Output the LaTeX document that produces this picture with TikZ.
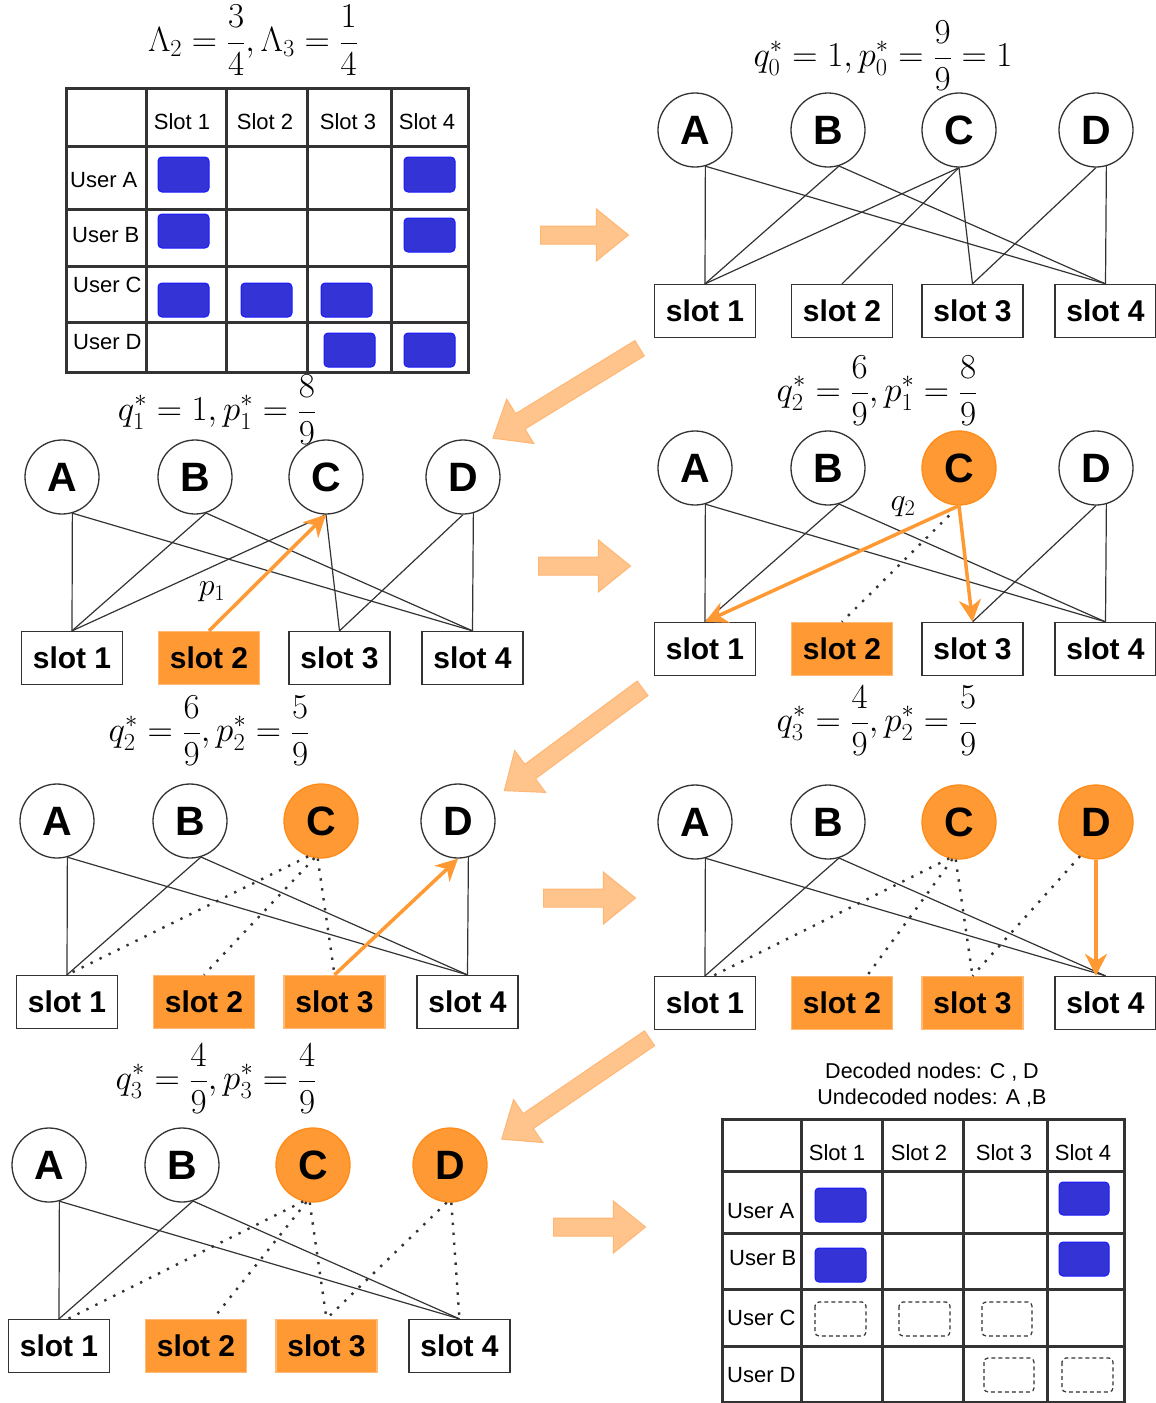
\RequirePackage{fix-cm}
\documentclass[tikz,border=0pt]{standalone}
\usepackage[no-math]{fontspec}
\newfontfamily\arial{Liberation Sans}
\usetikzlibrary{arrows.meta,shapes.arrows}
\definecolor{orange1}{RGB}{255,153,51}
\definecolor{orange2}{RGB}{255,140,26}
\definecolor{pale}{RGB}{255,196,140}
\definecolor{paleb}{RGB}{255,182,115}
\definecolor{bleu}{RGB}{51,51,214}
\definecolor{bleub}{RGB}{26,26,255}
\definecolor{gris}{RGB}{51,51,51}
\begin{document}
\begin{tikzpicture}[x=1pt,y=-1pt]
\tikzset{noeud/.style={circle, draw=gris, line width=1.3pt, fill=white, minimum size=74pt, inner sep=0pt, font=\arial\bfseries\fontsize{41}{41}\selectfont},
	decode/.style={noeud, fill=orange1, draw=orange2},
	creneau/.style={rectangle, draw=gris, line width=1.3pt, fill=white, minimum width=101pt, minimum height=53pt, inner sep=0pt, font=\arial\bfseries\fontsize{30}{30}\selectfont},
	creneauok/.style={creneau, fill=orange1, draw=orange2!60},
	lien/.style={draw=gris, line width=1.2pt},
	pointille/.style={draw=gris, line width=2.4pt, dash pattern=on 2.4pt off 7.6pt},
	fleche/.style={draw=orange1, line width=3.5pt, -{Stealth[length=22pt,width=22pt,inset=7pt]}},
	bloc/.style={single arrow, draw=paleb, fill=pale, line width=1pt, single arrow head extend=17pt, inner xsep=0pt, inner ysep=8.5pt, single arrow tip angle=78, anchor=tail},
	titre/.style={anchor=base, font=\fontsize{35}{40}\selectfont},
	etiq/.style={font=\fontsize{32}{36}\selectfont, inner sep=0pt},
	texte/.style={font=\arial\fontsize{22}{24}\selectfont, inner sep=0pt},
	grille/.style={draw=gris, line width=3pt},
	plein/.style={fill=bleu, draw=bleub, line width=1pt, rounded corners=4pt},
	vide/.style={draw=gris, line width=1.2pt, dash pattern=on 4pt off 3pt, rounded corners=4pt}}
\useasboundingbox (0,0) rectangle (1156,1403);

% tableau de depart
\node[titre] (t) at (253,51.5) {$\displaystyle \Lambda_2=\frac{3}{4},\Lambda_3=\frac{1}{4}$};
\draw[grille] (66,88) rectangle (468,372);
\draw[grille] (146,88) -- (146,372) (226,88) -- (226,372) (307,88) -- (307,372) (391,88) -- (391,372);
\draw[grille] (66,146) -- (468,146) (66,209) -- (468,209) (66,266) -- (468,266) (66,322) -- (468,322);
\node[texte] (h1) at (182,122) {Slot 1};
\node[texte] (h2) at (265,122) {Slot 2};
\node[texte] (h3) at (348,122) {Slot 3};
\node[texte] (h4) at (427,122) {Slot 4};
\node[texte, anchor=west] (ua) at (70,180) {User A};
\node[texte, anchor=west] (ub) at (72,235) {User B};
\node[texte, anchor=west] (uc) at (73,285) {User C};
\node[texte, anchor=west] (ud) at (73,342) {User D};
\draw[plein] (158,157) rectangle (209,192);
\draw[plein] (404,157) rectangle (455,192);
\draw[plein] (158,214) rectangle (209,248);
\draw[plein] (404,218) rectangle (455,252);
\draw[plein] (158,283) rectangle (209,317);
\draw[plein] (241,283) rectangle (292,317);
\draw[plein] (321,283) rectangle (372,317);
\draw[plein] (324,333) rectangle (375,367);
\draw[plein] (404,333) rectangle (455,367);

% grosses fleches
\node[bloc, minimum height=88pt] (f1) at (540,235) {};
\node[bloc, minimum height=172pt, rotate=211.5] (f2) at (640,348) {};
\node[bloc, minimum height=92pt] (f3) at (538,566) {};
\node[bloc, minimum height=172pt, rotate=216.5] (f4) at (643,688) {};
\node[bloc, minimum height=92pt] (f5) at (543,898) {};
\node[bloc, minimum height=179pt, rotate=214.3] (f6) at (650,1038) {};
\node[bloc, minimum height=92pt] (f7) at (553,1227) {};

% etape 0
\node[titre] (t0) at (883,66.75) {$\displaystyle q_0^*=1,p_0^*=\frac{9}{9}=1$};
\begin{scope}[shift={(695,130)}]
\node[noeud] (a0) at (0,0) {A};
\node[noeud] (b0) at (133,0) {B};
\node[noeud] (c0) at (264,0) {C};
\node[noeud] (d0) at (401,0) {D};
\node[creneau] (s01) at (10,181) {slot 1};
\node[creneau] (s02) at (147,181) {slot 2};
\node[creneau] (s03) at (277.5,181) {slot 3};
\node[creneau] (s04) at (410.5,181) {slot 4};
\end{scope}
\draw[lien] (a0.-74) -- (s01.north);
\draw[lien] (a0.-74) -- (s04.north);
\draw[lien] (b0.-73) -- (s01.north);
\draw[lien] (b0.-73) -- (s04.north);
\draw[lien] (c0.south) -- (s01.north);
\draw[lien] (c0.south) -- (s02.north);
\draw[lien] (c0.south) -- (s03.north);
\draw[lien] (d0.south) -- (s03.north);
\draw[lien] (d0.-74) -- (s04.north);

% etape 1
\node[titre] (t1) at (217,420.75) {$\displaystyle q_1^*=1,p_1^*=\frac{8}{9}$};
\begin{scope}[shift={(62,477)}]
\node[noeud] (a1) at (0,0) {A};
\node[noeud] (b1) at (133,0) {B};
\node[noeud] (c1) at (264,0) {C};
\node[noeud] (d1) at (401,0) {D};
\node[creneau] (s11) at (10,181) {slot 1};
\node[creneauok] (s12) at (147,181) {slot 2};
\node[creneau] (s13) at (277.5,181) {slot 3};
\node[creneau] (s14) at (410.5,181) {slot 4};
\end{scope}
\draw[lien] (a1.-74) -- (s11.north);
\draw[lien] (a1.-74) -- (s14.north);
\draw[lien] (b1.-73) -- (s11.north);
\draw[lien] (b1.-73) -- (s14.north);
\draw[lien] (c1.south) -- (s11.north);
\draw[lien] (c1.south) -- (s13.north);
\draw[lien] (d1.south) -- (s13.north);
\draw[lien] (d1.-74) -- (s14.north);
\draw[fleche] (s12.north) -- (c1.south);
\node[etiq] (p1) at (212,592) {$p_1$};

% etape 2
\node[titre] (t2) at (877,401.75) {$\displaystyle q_2^*=\frac{6}{9},p_1^*=\frac{8}{9}$};
\begin{scope}[shift={(695,468)}]
\node[noeud] (a2) at (0,0) {A};
\node[noeud] (b2) at (133,0) {B};
\node[decode] (c2) at (264,0) {C};
\node[noeud] (d2) at (401,0) {D};
\node[creneau] (s21) at (10,181) {slot 1};
\node[creneauok] (s22) at (147,181) {slot 2};
\node[creneau] (s23) at (277.5,181) {slot 3};
\node[creneau] (s24) at (410.5,181) {slot 4};
\end{scope}
\draw[lien] (a2.-74) -- (s21.north);
\draw[lien] (a2.-74) -- (s24.north);
\draw[lien] (b2.-73) -- (s21.north);
\draw[lien] (b2.-73) -- (s24.north);
\draw[lien] (d2.south) -- (s23.north);
\draw[lien] (d2.-74) -- (s24.north);
\draw[pointille, shorten <=14pt] (c2.south) -- (s22.north);
\draw[fleche] (c2.south) -- (s21.north);
\draw[fleche] (c2.south) -- (s23.north);
\node[etiq] (q2) at (903,507) {$q_2$};

% etape 3
\node[titre] (t3) at (209,741.75) {$\displaystyle q_2^*=\frac{6}{9},p_2^*=\frac{5}{9}$};
\begin{scope}[shift={(57,821)}]
\node[noeud] (a3) at (0,0) {A};
\node[noeud] (b3) at (133,0) {B};
\node[decode] (c3) at (264,0) {C};
\node[noeud] (d3) at (401,0) {D};
\node[creneau] (s31) at (10,181) {slot 1};
\node[creneauok] (s32) at (147,181) {slot 2};
\node[creneauok] (s33) at (277.5,181) {slot 3};
\node[creneau] (s34) at (410.5,181) {slot 4};
\end{scope}
\draw[lien] (a3.-74) -- (s31.north);
\draw[lien] (a3.-74) -- (s34.north);
\draw[lien] (b3.-73) -- (s31.north);
\draw[lien] (b3.-73) -- (s34.north);
\draw[lien] (d3.-74) -- (s34.north);
\draw[pointille] (c3.-110) -- (s31.north);
\draw[pointille] (c3.-100) -- (s32.north);
\draw[pointille] (c3.-95) -- (s33.north);
\draw[fleche] (s33.north) -- (d3.south);

% etape 4
\node[titre] (t4) at (877,731.75) {$\displaystyle q_3^*=\frac{4}{9},p_2^*=\frac{5}{9}$};
\begin{scope}[shift={(695,822)}]
\node[noeud] (a4) at (0,0) {A};
\node[noeud] (b4) at (133,0) {B};
\node[decode] (c4) at (264,0) {C};
\node[decode] (d4) at (401,0) {D};
\node[creneau] (s41) at (10,181) {slot 1};
\node[creneauok] (s42) at (147,181) {slot 2};
\node[creneauok] (s43) at (277.5,181) {slot 3};
\node[creneau] (s44) at (410.5,181) {slot 4};
\end{scope}
\draw[lien] (a4.-74) -- (s41.north);
\draw[lien] (a4.-74) -- (s44.north);
\draw[lien] (b4.-73) -- (s41.north);
\draw[lien] (b4.-73) -- (s44.north);
\draw[pointille] (c4.-105) -- ([xshift=8pt]s41.north);
\draw[pointille] (c4.-100) -- ([xshift=25pt]s42.north);
\draw[pointille] (c4.-95) -- (s43.north);
\draw[pointille] (d4.-115) -- (s43.north);
\draw[fleche] (d4.south) -- (d4.south |- s44.north);

% etape 5
\node[titre] (t5) at (216,1089.75) {$\displaystyle q_3^*=\frac{4}{9},p_3^*=\frac{4}{9}$};
\begin{scope}[shift={(49,1165)}]
\node[noeud] (a5) at (0,0) {A};
\node[noeud] (b5) at (133,0) {B};
\node[decode] (c5) at (264,0) {C};
\node[decode] (d5) at (401,0) {D};
\node[creneau] (s51) at (10,181) {slot 1};
\node[creneauok] (s52) at (147,181) {slot 2};
\node[creneauok] (s53) at (277.5,181) {slot 3};
\node[creneau] (s54) at (410.5,181) {slot 4};
\end{scope}
\draw[lien] (a5.-74) -- (s51.north);
\draw[lien] (a5.-74) -- (s54.north);
\draw[lien] (b5.-73) -- (s51.north);
\draw[lien] (b5.-73) -- (s54.north);
\draw[pointille] (c5.-105) -- ([xshift=9pt]s51.north);
\draw[pointille] (c5.-100) -- ([xshift=17pt]s52.north);
\draw[pointille] (c5.-95) -- (s53.north);
\draw[pointille] (d5.-95) -- (s53.north);
\draw[pointille] (d5.-88) -- (s54.north);

% tableau final
\node[texte, font=\arial\fontsize{21.5}{24}\selectfont] (l1) at (932,1072) {Decoded nodes: C , D};
\node[texte, font=\arial\fontsize{21.5}{24}\selectfont] (l2) at (932,1098) {Undecoded nodes: A ,B};
\draw[grille] (722,1119) rectangle (1124,1402);
\draw[grille] (801,1119) -- (801,1402) (882,1119) -- (882,1402) (963,1119) -- (963,1402) (1047,1119) -- (1047,1402);
\draw[grille] (722,1171) -- (1124,1171) (722,1233) -- (1124,1233) (722,1289) -- (1124,1289) (722,1346) -- (1124,1346);
\node[texte] (k1) at (837,1153) {Slot 1};
\node[texte] (k2) at (919,1153) {Slot 2};
\node[texte] (k3) at (1004,1153) {Slot 3};
\node[texte] (k4) at (1083,1153) {Slot 4};
\node[texte, anchor=west] (va) at (727,1211) {User A};
\node[texte, anchor=west] (vb) at (729,1258) {User B};
\node[texte, anchor=west] (vc) at (727,1318) {User C};
\node[texte, anchor=west] (vd) at (727,1375) {User D};
\draw[plein] (815,1188) rectangle (866,1222);
\draw[plein] (1059,1182) rectangle (1109,1215);
\draw[plein] (815,1248) rectangle (866,1282);
\draw[plein] (1059,1242) rectangle (1109,1276);
\draw[vide] (815,1302) rectangle (866,1336);
\draw[vide] (899,1302) rectangle (950,1336);
\draw[vide] (982,1302) rectangle (1032,1336);
\draw[vide] (984,1358) rectangle (1034,1392);
\draw[vide] (1062,1358) rectangle (1113,1392);
\end{tikzpicture}
\end{document}
